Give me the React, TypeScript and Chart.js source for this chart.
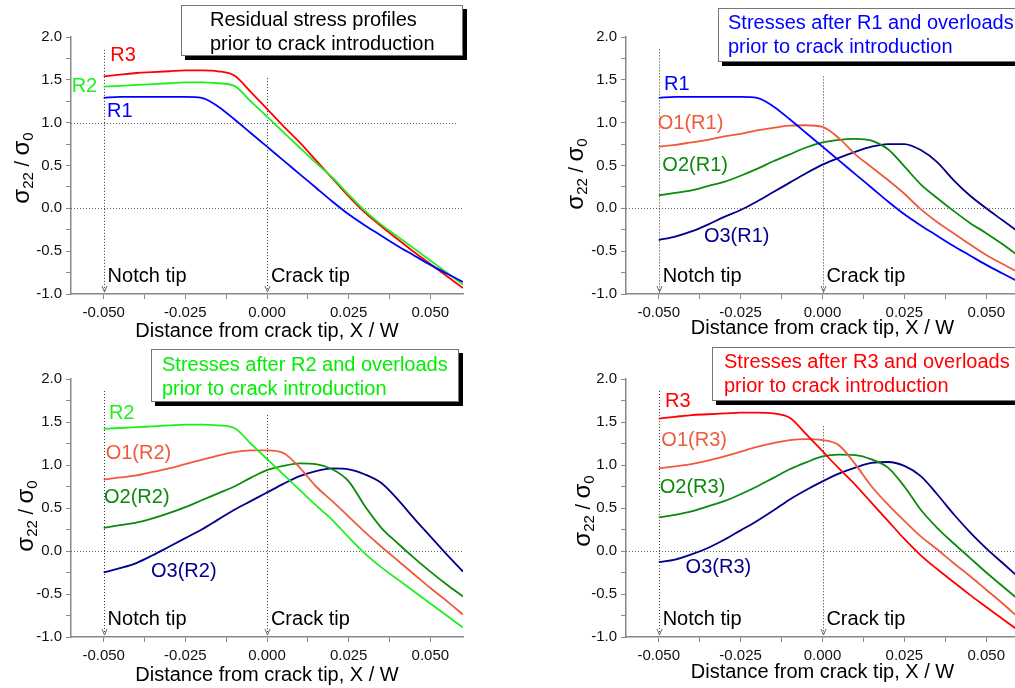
import React, { useEffect, useRef } from 'react';
import { Chart, registerables } from 'chart.js';

Chart.register(...registerables);

// ---------- data ----------
const xValues = [-0.05, -0.045, -0.04, -0.035, -0.03, -0.025, -0.02, -0.015, -0.01, -0.005, 0, 0.005, 0.01, 0.015, 0.02, 0.025, 0.03, 0.035, 0.04, 0.045, 0.05, 0.055, 0.06];

const R1 = [1.29, 1.30, 1.30, 1.30, 1.30, 1.30, 1.29, 1.19, 1.04, 0.88, 0.72, 0.56, 0.40, 0.24, 0.08, -0.07, -0.20, -0.32, -0.44, -0.55, -0.66, -0.76, -0.86];
const R2 = [1.42, 1.43, 1.44, 1.45, 1.46, 1.47, 1.47, 1.46, 1.43, 1.25, 1.07, 0.89, 0.71, 0.53, 0.36, 0.16, -0.03, -0.19, -0.33, -0.47, -0.61, -0.75, -0.89];
const R3 = [1.54, 1.56, 1.58, 1.59, 1.60, 1.61, 1.61, 1.60, 1.55, 1.36, 1.16, 0.96, 0.77, 0.56, 0.35, 0.14, -0.05, -0.21, -0.36, -0.51, -0.65, -0.79, -0.93];

const O1_R1 = [0.72, 0.74, 0.77, 0.80, 0.84, 0.87, 0.91, 0.94, 0.965, 0.97, 0.95, 0.82, 0.63, 0.48, 0.33, 0.17, -0.01, -0.16, -0.29, -0.42, -0.545, -0.65, -0.75];
const O2_R1 = [0.15, 0.18, 0.21, 0.26, 0.31, 0.38, 0.46, 0.55, 0.63, 0.71, 0.77, 0.80, 0.81, 0.79, 0.69, 0.49, 0.28, 0.12, -0.03, -0.17, -0.29, -0.42, -0.56];
const O3_R1 = [-0.37, -0.33, -0.27, -0.19, -0.10, -0.02, 0.08, 0.19, 0.30, 0.41, 0.51, 0.59, 0.66, 0.72, 0.75, 0.75, 0.68, 0.54, 0.33, 0.15, 0.00, -0.14, -0.28];

const O1_R2 = [0.83, 0.855, 0.88, 0.92, 0.96, 1.01, 1.06, 1.11, 1.15, 1.17, 1.17, 1.14, 0.97, 0.75, 0.58, 0.40, 0.22, 0.05, -0.11, -0.27, -0.43, -0.58, -0.74];
const O2_R2 = [0.27, 0.30, 0.33, 0.38, 0.44, 0.51, 0.59, 0.67, 0.75, 0.85, 0.94, 0.99, 1.02, 1.01, 0.95, 0.81, 0.52, 0.27, 0.09, -0.08, -0.24, -0.39, -0.53];
const O3_R2 = [-0.25, -0.20, -0.14, -0.05, 0.05, 0.15, 0.25, 0.365, 0.48, 0.58, 0.68, 0.78, 0.87, 0.93, 0.96, 0.95, 0.89, 0.79, 0.60, 0.38, 0.17, -0.04, -0.24];

const O1_R3 = [0.96, 0.985, 1.01, 1.05, 1.10, 1.155, 1.21, 1.255, 1.29, 1.30, 1.29, 1.23, 1.01, 0.75, 0.54, 0.35, 0.17, 0.02, -0.14, -0.29, -0.45, -0.61, -0.78];
const O2_R3 = [0.39, 0.42, 0.46, 0.52, 0.58, 0.66, 0.75, 0.85, 0.95, 1.03, 1.10, 1.12, 1.115, 1.065, 0.97, 0.75, 0.48, 0.27, 0.09, -0.08, -0.25, -0.41, -0.57];
const O3_R3 = [-0.13, -0.10, -0.04, 0.035, 0.13, 0.24, 0.35, 0.47, 0.60, 0.71, 0.81, 0.90, 0.97, 1.025, 1.035, 0.99, 0.87, 0.66, 0.43, 0.22, 0.03, -0.14, -0.31];

const xTickValues = [-0.05, -0.0375, -0.025, -0.0125, 0, 0.0125, 0.025, 0.0375, 0.05];
const xLabelValues = [-0.05, -0.025, 0, 0.025, 0.05];
const yTickValues = [-1, -0.75, -0.5, -0.25, 0, 0.25, 0.5, 0.75, 1, 1.25, 1.5, 1.75, 2];
const yLabelValues = [-1, -0.5, 0, 0.5, 1, 1.5, 2];

// ---------- styles ----------
const FONT = '"Liberation Sans", Arial, Helvetica, sans-serif';
const C_R1 = '#0000ff';
const C_R2 = '#1ef01e';
const C_R3 = '#ff0000';
const C_O1 = '#f05a3c';
const C_O2 = '#0b8a0b';
const C_O3 = '#00008c';

type Label = { text: string; color: string; x: number; y: number };
type PanelCfg = {
  left: number; top: number; w: number; h: number;
  area: { left: number; right: number; top: number; bottom: number };
  series: { values: number[]; color: string }[];
  labels: Label[];
  vlines: { x: number; top: number }[];
  hlines: { y: number; xMax?: number }[];
  yTitle: { x: number; y: number };
  xTitleBaseline: number;
  box: { x: number; y: number; w: number; h: number; textX: number; baselines: number[]; color: string; lines: string[] };
};

const tipLabels = (): Label[] => [
  { text: 'Notch tip', color: '#000', x: -0.0488, y: -0.86 },
  { text: 'Crack tip', color: '#000', x: 0.0012, y: -0.86 },
];

const panels: PanelCfg[] = [
  {
    left: 0, top: 0, w: 500, h: 344,
    area: { left: 71, right: 463, top: 37, bottom: 294 },
    series: [{ values: R1, color: C_R1 }, { values: R2, color: C_R2 }, { values: R3, color: C_R3 }],
    labels: [
      { text: 'R3', color: C_R3, x: -0.048, y: 1.72 },
      { text: 'R2', color: C_R2, x: -0.0598, y: 1.36 },
      { text: 'R1', color: C_R1, x: -0.049, y: 1.065 },
      ...tipLabels(),
    ],
    vlines: [{ x: -0.05, top: 1.85 }, { x: 0, top: 1.52 }],
    hlines: [{ y: 0 }, { y: 1, xMax: 0.058 }],
    yTitle: { x: 29, y: 168 },
    xTitleBaseline: 337,
    box: { x: 181, y: 5, w: 282, h: 51, textX: 210, baselines: [26, 50], color: '#000', lines: ['Residual stress profiles', 'prior to crack introduction'] },
  },
  {
    left: 500, top: 0, w: 530, h: 344,
    area: { left: 126, right: 519, top: 37, bottom: 294 },
    series: [{ values: R1, color: C_R1 }, { values: O1_R1, color: C_O1 }, { values: O2_R1, color: C_O2 }, { values: O3_R1, color: C_O3 }],
    labels: [
      { text: 'R1', color: C_R1, x: -0.0484, y: 1.38 },
      { text: 'O1(R1)', color: C_O1, x: -0.0503, y: 0.93 },
      { text: 'O2(R1)', color: C_O2, x: -0.0489, y: 0.43 },
      { text: 'O3(R1)', color: C_O3, x: -0.0362, y: -0.39 },
      ...tipLabels(),
    ],
    vlines: [{ x: -0.05, top: 1.855 }, { x: 0, top: 1.54 }],
    hlines: [{ y: 0 }],
    yTitle: { x: 83, y: 174 },
    xTitleBaseline: 334,
    box: { x: 218, y: 8, w: 400, h: 54, textX: 228, baselines: [29, 53], color: '#0000ff', lines: ['Stresses after R1 and overloads', 'prior to crack introduction'] },
  },
  {
    left: 0, top: 340, w: 500, h: 348,
    area: { left: 71, right: 463, top: 39, bottom: 297 },
    series: [{ values: R2, color: C_R2 }, { values: O1_R2, color: C_O1 }, { values: O2_R2, color: C_O2 }, { values: O3_R2, color: C_O3 }],
    labels: [
      { text: 'R2', color: C_R2, x: -0.0484, y: 1.54 },
      { text: 'O1(R2)', color: C_O1, x: -0.0494, y: 1.065 },
      { text: 'O2(R2)', color: C_O2, x: -0.0499, y: 0.56 },
      { text: 'O3(R2)', color: C_O3, x: -0.0355, y: -0.30 },
      ...tipLabels(),
    ],
    vlines: [{ x: -0.05, top: 1.86 }, { x: 0, top: 1.58 }],
    hlines: [{ y: 0 }],
    yTitle: { x: 33, y: 176 },
    xTitleBaseline: 341,
    box: { x: 151, y: 9, w: 308, h: 53, textX: 162, baselines: [31, 55], color: '#00ee00', lines: ['Stresses after R2 and overloads', 'prior to crack introduction'] },
  },
  {
    left: 500, top: 340, w: 530, h: 348,
    area: { left: 126, right: 519, top: 39, bottom: 297 },
    series: [{ values: R3, color: C_R3 }, { values: O1_R3, color: C_O1 }, { values: O2_R3, color: C_O2 }, { values: O3_R3, color: C_O3 }],
    labels: [
      { text: 'R3', color: C_R3, x: -0.0481, y: 1.675 },
      { text: 'O1(R3)', color: C_O1, x: -0.0492, y: 1.22 },
      { text: 'O2(R3)', color: C_O2, x: -0.0497, y: 0.67 },
      { text: 'O3(R3)', color: C_O3, x: -0.0418, y: -0.26 },
      ...tipLabels(),
    ],
    vlines: [{ x: -0.05, top: 1.86 }, { x: 0, top: 1.45 }],
    hlines: [{ y: 0 }],
    yTitle: { x: 90, y: 171 },
    xTitleBaseline: 338,
    box: { x: 212, y: 7, w: 400, h: 54, textX: 224, baselines: [28, 52], color: '#ff0000', lines: ['Stresses after R3 and overloads', 'prior to crack introduction'] },
  },
];

const near = (a: number, list: number[]) => list.some((v) => Math.abs(v - a) < 1e-6);

function makeChart(canvas: HTMLCanvasElement, cfg: PanelCfg) {
  const overlay = {
    id: 'overlay',
    beforeDatasetsDraw(chart: any) {
      const ctx = chart.ctx as CanvasRenderingContext2D;
      const xs = chart.scales.x;
      const ys = chart.scales.y;
      const ca = chart.chartArea;
      ctx.save();
      ctx.lineWidth = 1;
      ctx.setLineDash([1, 2]);
      ctx.strokeStyle = '#666';
      cfg.hlines.forEach((h) => {
        const py = Math.round(ys.getPixelForValue(h.y)) + 0.5;
        const x2 = h.xMax !== undefined ? xs.getPixelForValue(h.xMax) : ca.right;
        ctx.beginPath();
        ctx.moveTo(ca.left, py);
        ctx.lineTo(x2, py);
        ctx.stroke();
      });
      ctx.strokeStyle = '#333';
      cfg.vlines.forEach((v) => {
        const px = Math.round(xs.getPixelForValue(v.x)) + 0.5;
        const py = ys.getPixelForValue(v.top);
        ctx.beginPath();
        ctx.moveTo(px, py);
        ctx.lineTo(px, ca.bottom - 1);
        ctx.stroke();
      });
      ctx.setLineDash([]);
      ctx.strokeStyle = '#666';
      cfg.vlines.forEach((v) => {
        const px = Math.round(xs.getPixelForValue(v.x)) + 0.5;
        ctx.beginPath();
        ctx.moveTo(px - 2.5, ca.bottom - 8);
        ctx.lineTo(px, ca.bottom - 2);
        ctx.lineTo(px + 2.5, ca.bottom - 8);
        ctx.stroke();
      });
      ctx.restore();
    },
    afterDraw(chart: any) {
      const ctx = chart.ctx as CanvasRenderingContext2D;
      const xs = chart.scales.x;
      const ys = chart.scales.y;
      ctx.save();
      // curve labels
      ctx.font = `20px ${FONT}`;
      ctx.textBaseline = 'alphabetic';
      ctx.textAlign = 'left';
      cfg.labels.forEach((l) => {
        ctx.fillStyle = l.color;
        ctx.fillText(l.text, xs.getPixelForValue(l.x), ys.getPixelForValue(l.y));
      });
      // x title
      ctx.fillStyle = '#000';
      ctx.textAlign = 'center';
      ctx.font = `20px ${FONT}`;
      ctx.fillText('Distance from crack tip, X / W', xs.getPixelForValue(0), cfg.xTitleBaseline);
      // y title with subscripts
      ctx.save();
      ctx.translate(cfg.yTitle.x, cfg.yTitle.y);
      ctx.rotate(-Math.PI / 2);
      ctx.textAlign = 'left';
      const parts = [
        { t: 'σ', f: `24px ${FONT}`, dy: 0 },
        { t: '22', f: `15px ${FONT}`, dy: 4 },
        { t: ' / ', f: `20px ${FONT}`, dy: 0 },
        { t: 'σ', f: `24px ${FONT}`, dy: 0 },
        { t: '0', f: `15px ${FONT}`, dy: 4 },
      ];
      let total = 0;
      parts.forEach((p) => { ctx.font = p.f; total += ctx.measureText(p.t).width; });
      let cx = -total / 2;
      parts.forEach((p) => {
        ctx.font = p.f;
        ctx.fillText(p.t, cx, p.dy);
        cx += ctx.measureText(p.t).width;
      });
      ctx.restore();
      // title box with shadow
      const b = cfg.box;
      ctx.fillStyle = '#000';
      ctx.fillRect(b.x + 4, b.y + 4, b.w, b.h);
      ctx.fillStyle = '#fff';
      ctx.fillRect(b.x, b.y, b.w, b.h);
      ctx.strokeStyle = '#777';
      ctx.lineWidth = 1;
      ctx.strokeRect(b.x + 0.5, b.y + 0.5, b.w - 1, b.h - 1);
      ctx.fillStyle = b.color;
      ctx.font = `20px ${FONT}`;
      ctx.textAlign = 'left';
      b.lines.forEach((line, i) => ctx.fillText(line, b.textX, b.baselines[i]));
      ctx.restore();
    },
  };

  const datasets = cfg.series.map((s) => ({
    data: xValues.map((x, i) => ({ x, y: s.values[i] })),
    borderColor: s.color,
    backgroundColor: s.color,
    borderWidth: 1.8,
    pointRadius: 0,
    fill: false,
    cubicInterpolationMode: 'monotone' as const,
  }));

  return new Chart(canvas, {
    type: 'line',
    data: { datasets },
    plugins: [overlay],
    options: {
      animation: false,
      responsive: false,
      devicePixelRatio: 1,
      events: [],
      layout: { padding: { left: 0, top: cfg.area.top, right: cfg.w - cfg.area.right, bottom: 0 } },
      plugins: { legend: { display: false }, tooltip: { enabled: false }, title: { display: false } },
      scales: {
        x: {
          type: 'linear',
          min: -0.06,
          max: 0.06,
          afterBuildTicks: (scale: any) => { scale.ticks = xTickValues.map((v) => ({ value: v })); },
          afterFit: (scale: any) => { scale.height = cfg.h - cfg.area.bottom; },
          ticks: {
            autoSkip: false,
            maxRotation: 0,
            padding: 5,
            color: '#111',
            font: { family: FONT, size: 15 },
            callback: (v: any) => (near(Number(v), xLabelValues) ? Number(v).toFixed(3) : ''),
          },
          grid: { drawOnChartArea: false, drawTicks: true, tickLength: 5, tickColor: '#888', tickWidth: 1 },
          border: { color: '#888', width: 1.5 },
        },
        y: {
          type: 'linear',
          min: -1,
          max: 2,
          afterBuildTicks: (scale: any) => { scale.ticks = yTickValues.map((v) => ({ value: v })); },
          afterFit: (scale: any) => { scale.width = cfg.area.left; },
          ticks: {
            autoSkip: false,
            padding: 4,
            color: '#111',
            font: { family: FONT, size: 15 },
            callback: (v: any) => (near(Number(v), yLabelValues) ? Number(v).toFixed(1) : ''),
          },
          grid: { drawOnChartArea: false, drawTicks: true, tickLength: 5, tickColor: '#888', tickWidth: 1 },
          border: { color: '#888', width: 1.5 },
        },
      },
    } as any,
  });
}

function Panel({ cfg }: { cfg: PanelCfg }) {
  const ref = useRef<HTMLCanvasElement>(null);
  useEffect(() => {
    const chart = makeChart(ref.current as HTMLCanvasElement, cfg);
    return () => chart.destroy();
  }, [cfg]);
  return (
    <div style={{ position: 'absolute', left: cfg.left, top: cfg.top, width: cfg.w, height: cfg.h }}>
      <canvas ref={ref} width={cfg.w} height={cfg.h} style={{ display: 'block', width: cfg.w, height: cfg.h }} />
    </div>
  );
}

export default function App() {
  return (
    <div style={{ position: 'fixed', left: 0, top: 0, width: 1015, height: 688, overflow: 'hidden', background: '#fff' }}>
      {panels.map((p, i) => (
        <Panel key={i} cfg={p} />
      ))}
    </div>
  );
}
